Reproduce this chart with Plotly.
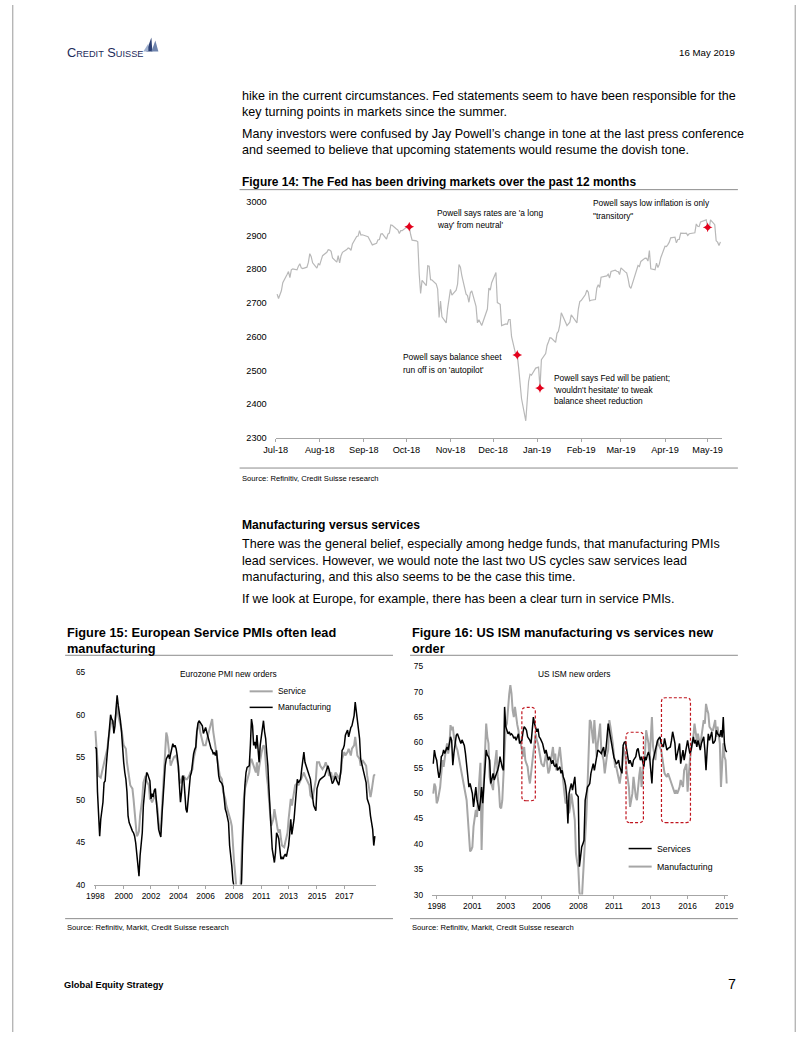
import plotly.graph_objects as go
import pandas as pd

W, H = 802, 1037
ARIAL = "Liberation Sans, Arial"
GREY_LINE = "#a6a6a6"

# the photographed page comes back slightly shrunk and offset; positions below are
# taken from the reference page and mapped back through this
OX, SX = 12.0, 0.975
OY, SY = 5.6, 0.989
FS = 1 / 0.98

# ---------------- Figure 14: S&P 500 daily close ----------------
spx_holidays = ["2018-07-04", "2018-09-03", "2018-11-22", "2018-12-05", "2018-12-25",
                "2019-01-01", "2019-01-21", "2019-02-18", "2019-04-19"]
spx_close = [
    # Jul-18
    2726, 2713, 2736, 2760, 2784, 2793, 2775, 2798, 2801, 2798, 2809, 2816, 2804, 2802, 2806, 2820, 2846, 2837, 2819, 2803, 2816,
    # Aug-18
    2813, 2827, 2840, 2850, 2858, 2857, 2853, 2833, 2821, 2840, 2819, 2840, 2850, 2858, 2863, 2861, 2856, 2875, 2897, 2898, 2914, 2901, 2902,
    # Sep-18
    2896, 2888, 2878, 2872, 2877, 2887, 2888, 2904, 2905, 2889, 2904, 2907, 2931, 2930, 2919, 2916, 2906, 2914, 2914,
    # Oct-18
    2924, 2923, 2926, 2902, 2886, 2884, 2881, 2786, 2728, 2767, 2751, 2810, 2809, 2769, 2768, 2756, 2741, 2657, 2706, 2659, 2641, 2683, 2712,
    # Nov-18
    2740, 2723, 2738, 2756, 2814, 2806, 2781, 2726, 2722, 2702, 2730, 2736, 2690, 2641, 2650, 2633, 2674, 2682, 2744, 2738, 2760,
    # Dec-18
    2790, 2701, 2696, 2633, 2638, 2637, 2651, 2651, 2600, 2546, 2546, 2507, 2467, 2417, 2351, 2468, 2489, 2486, 2507,
    # Jan-19
    2510, 2448, 2532, 2550, 2574, 2585, 2597, 2596, 2583, 2610, 2616, 2636, 2671, 2633, 2639, 2643, 2665, 2644, 2641, 2682, 2704,
    # Feb-19
    2707, 2725, 2738, 2732, 2706, 2708, 2710, 2744, 2754, 2746, 2776, 2780, 2785, 2774, 2793, 2797, 2794, 2793, 2784,
    # Mar-19
    2804, 2792, 2789, 2772, 2749, 2743, 2783, 2792, 2811, 2808, 2823, 2833, 2832, 2824, 2855, 2801, 2798, 2818, 2805, 2815, 2834,
    # Apr-19
    2868, 2867, 2873, 2880, 2893, 2895, 2878, 2888, 2888, 2907, 2906, 2907, 2900, 2905, 2908, 2934, 2927, 2926, 2940, 2943, 2946,
    # May-19
    2924, 2917, 2946, 2932, 2884, 2880, 2870, 2881,
]
spx_dates = pd.bdate_range("2018-07-02", "2019-05-10", freq="C", holidays=spx_holidays)
spx = pd.Series(spx_close, index=spx_dates)
event_dates = pd.to_datetime(["2018-10-03", "2018-12-18", "2019-01-03", "2019-05-01"])

# ---------------- Figure 15: Eurozone PMI new orders ----------------
ez_service = [
    58.1, 56.4, 54.5, 52.8, 52.7, 52.6, 53.2, 53.8, 54.4, 55.2,
    55.6, 56.0, 57.2, 58.0, 58.7, 59.5, 59.0, 58.9, 59.3, 60.2,
    61.1, 59.9, 59.4, 58.9, 58.3, 57.3, 56.4, 56.2, 56.0, 54.4,
    53.5, 52.8, 51.7, 51.5, 51.3, 50.1, 48.8, 47.3, 45.7, 45.9,
    46.3, 48.1, 49.0, 50.1, 52.0, 52.4, 52.8, 52.2, 51.9, 51.7,
    50.1, 50.0, 49.7, 50.1, 50.3, 50.5, 49.8, 48.9, 47.3, 46.7,
    46.1, 48.9, 51.5, 54.0, 56.8, 57.9, 57.4, 56.4, 55.4, 54.0,
    54.4, 54.8, 55.0, 55.1, 55.2, 54.6, 54.0, 52.4, 51.9, 52.4,
    52.8, 52.8, 52.6, 52.4, 52.4, 52.6, 52.8, 53.2, 53.4, 53.6,
    54.8, 55.4, 56.0, 58.0, 58.6, 59.1, 58.0, 57.4, 56.8, 56.4,
    56.4, 56.4, 57.0, 57.5, 58.0, 58.7, 59.1, 59.5, 58.0, 57.2,
    56.4, 55.2, 54.6, 54.0, 52.8, 52.6, 52.4, 50.9, 50.5, 50.1,
    49.3, 48.9, 48.5, 48.1, 47.5, 46.9, 44.2, 42.8, 41.4, 39.0,
    37.5, 37.0, 38.5, 40.0, 43.5, 47.3, 50.1, 51.3, 51.8, 52.4,
    52.8, 53.2, 54.4, 54.8, 54.4, 54.0, 53.6, 53.2, 54.4, 52.8,
    53.8, 54.8, 55.4, 56.0, 56.4, 56.2, 54.0, 52.8, 51.7, 50.1,
    48.1, 46.9, 47.3, 47.7, 48.9, 48.1, 46.9, 46.5, 46.1, 46.5,
    45.4, 44.6, 44.5, 44.4, 45.0, 45.5, 46.1, 47.7, 49.0, 50.1,
    49.3, 50.1, 50.9, 51.7, 51.8, 52.0, 51.7, 52.0, 52.4, 52.8,
    53.0, 53.2, 52.8, 52.5, 52.2, 52.0, 51.7, 50.5, 50.3, 50.1,
    50.9, 51.6, 52.4, 54.4, 54.4, 54.4, 54.0, 53.8, 53.6, 53.8,
    54.0, 54.4, 54.0, 53.6, 52.8, 53.0, 53.2, 52.4, 52.6, 52.8,
    53.2, 53.0, 52.8, 52.4, 52.8, 53.2, 54.8, 55.2, 55.6, 55.2,
    55.4, 55.6, 56.0, 55.6, 55.2, 56.0, 56.2, 56.4, 57.4, 56.3,
    55.2, 55.0, 54.8, 54.0, 54.5, 54.6, 54.4, 54.2, 54.0, 52.8,
    52.0, 51.3, 50.3, 51.0, 52.0, 52.8, 53.0,
]
ez_manuf = [
    56.2, 56.0, 50.9, 47.3, 45.7, 47.7, 48.5, 49.7, 52.0, 52.2,
    54.0, 55.6, 57.2, 58.3, 60.0, 59.5, 59.3, 57.8, 58.7, 60.7,
    62.3, 61.1, 60.3, 59.3, 58.0, 55.6, 54.4, 53.2, 52.4, 50.9,
    48.1, 47.3, 46.9, 46.5, 46.3, 46.1, 45.7, 44.9, 43.8, 42.5,
    41.0, 43.4, 45.0, 46.1, 49.3, 51.0, 52.0, 53.2, 53.0, 52.6,
    52.2, 50.1, 50.7, 50.3, 51.1, 51.3, 49.3, 47.3, 46.5, 46.0,
    45.6, 48.1, 50.5, 52.0, 54.0, 54.8, 55.0, 55.3, 54.8, 55.6,
    56.0, 56.6, 56.2, 56.4, 56.0, 55.2, 54.0, 51.7, 49.7, 50.9,
    52.8, 52.6, 50.9, 48.9, 48.5, 49.8, 51.3, 52.8, 53.2, 54.4,
    55.4, 55.9, 56.2, 58.0, 59.0, 59.3, 59.1, 59.0, 58.7, 57.8,
    58.3, 58.5, 58.0, 57.4, 56.8, 56.6, 56.0, 55.8, 55.4, 55.5,
    55.2, 55.8, 54.2, 52.8, 52.2, 52.0, 51.9, 51.5, 50.0, 48.9,
    48.5, 48.0, 47.3, 44.6, 43.5, 42.2, 40.5, 39.8, 36.0, 32.0,
    30.5, 33.0, 36.5, 39.0, 40.6, 45.4, 49.3, 51.7, 53.2, 53.8,
    53.9, 54.0, 56.4, 59.5, 58.7, 56.4, 56.8, 56.0, 57.6, 55.6,
    54.4, 56.4, 57.2, 58.0, 59.3, 58.0, 57.2, 55.5, 54.0, 51.3,
    48.5, 46.1, 44.2, 43.4, 42.6, 43.8, 46.1, 45.8, 45.4, 44.2,
    43.0, 43.2, 43.0, 43.4, 43.6, 43.3, 43.8, 44.6, 46.0, 47.7,
    45.9, 46.8, 47.7, 49.3, 51.0, 52.4, 52.0, 52.2, 52.4, 53.6,
    54.5, 55.6, 54.4, 54.0, 53.6, 53.2, 52.8, 52.4, 51.2, 50.1,
    49.3, 49.0, 48.7, 51.3, 51.8, 52.2, 52.4, 52.5, 52.6, 52.7,
    52.8, 53.2, 53.5, 54.0, 53.6, 53.0, 52.4, 51.9, 52.1, 52.4,
    52.8, 52.3, 52.0, 51.7, 52.5, 53.6, 55.8, 56.0, 56.4, 57.6,
    57.9, 58.2, 57.4, 58.0, 58.5, 58.7, 59.2, 59.9, 61.5, 60.5,
    59.5, 58.3, 57.2, 54.8, 54.2, 53.6, 53.2, 52.6, 52.0, 50.1,
    49.7, 49.3, 48.1, 47.3, 46.5, 44.6, 45.7,
]
ez_tick_pos = [0, 26, 51, 76, 101, 127, 152, 177, 203, 228]
ez_tick_labels = ["1998", "2000", "2002", "2004", "2006", "2008", "2011", "2013", "2015", "2017"]

# ---------------- Figure 16: US ISM new orders ----------------
us_services = [
    55.8, 58.5, 57.2, 56.5, 54.5, 53.0, 54.2, 57.2, 57.5, 58.5,
    57.8, 58.6, 59.1, 58.5, 59.8, 61.1, 60.4, 55.5, 58.0, 60.4,
    61.4, 61.7, 61.1, 60.4, 59.8, 60.5, 60.1, 59.4, 57.8, 55.8,
    53.9, 51.2, 51.9, 50.5, 49.9, 47.3, 49.3, 51.2, 48.6, 47.3,
    46.5, 48.6, 51.2, 48.0, 51.9, 56.5, 58.5, 57.5, 57.2, 56.5,
    51.9, 52.8, 53.9, 52.6, 53.5, 53.9, 54.5, 55.5, 57.2, 55.8,
    55.0, 54.5, 67.0, 63.1, 62.5, 61.7, 62.1, 61.5, 61.7, 61.4,
    60.8, 61.1, 60.4, 61.0, 61.7, 59.8, 60.2, 60.4, 62.1, 63.1,
    62.8, 62.4, 61.1, 60.8, 60.4, 59.8, 62.0, 65.0, 63.7, 62.8,
    62.1, 62.7, 61.1, 60.8, 60.4, 59.8, 58.8, 57.8, 58.5, 57.5,
    56.5, 57.2, 56.5, 55.8, 56.5, 55.5, 55.2, 55.8, 54.5, 55.0,
    55.2, 53.9, 54.5, 53.2, 52.6, 51.5, 49.3, 44.0, 49.9, 51.0,
    51.9, 50.6, 52.0, 53.2, 49.9, 49.5, 49.3, 35.5, 37.5, 39.4,
    40.0, 40.7, 48.6, 49.9, 51.2, 51.5, 51.9, 53.9, 54.8, 55.8,
    54.5, 56.0, 57.2, 58.5, 58.3, 58.1, 57.8, 58.5, 59.1, 57.2,
    58.5, 61.0, 63.7, 62.4, 61.0, 59.8, 57.8, 57.0, 56.5, 55.8,
    56.0, 56.5, 55.2, 54.5, 53.9, 59.4, 60.0, 60.1, 58.5, 57.0,
    55.8, 56.5, 55.8, 55.2, 56.5, 56.8, 57.2, 58.5, 58.8, 57.5,
    56.5, 57.2, 56.0, 55.2, 57.2, 56.5, 57.5, 58.1, 57.2, 54.5,
    51.9, 56.5, 57.5, 58.5, 59.1, 60.4, 60.8, 61.1, 59.8, 59.5,
    59.1, 60.8, 59.5, 58.5, 58.8, 59.0, 59.1, 60.4, 62.1, 61.0,
    59.8, 56.5, 57.8, 58.8, 59.8, 55.8, 57.0, 58.5, 56.5, 58.0,
    59.8, 60.4, 59.0, 57.8, 58.5, 60.0, 61.1, 59.8, 60.5, 59.1,
    60.4, 59.5, 58.5, 59.8, 60.5, 61.1, 58.5, 54.5, 58.5, 61.7,
    60.4, 61.5, 62.1, 59.8, 60.0, 60.4, 62.4, 61.7, 61.5, 61.1,
    62.4, 61.0, 65.0, 59.8, 58.5, 58.1,
]
us_manuf = [
    49.9, 51.9, 51.2, 48.0, 48.6, 50.0, 51.2, 53.9, 56.5, 55.2,
    57.2, 58.5, 59.8, 57.8, 59.1, 63.4, 62.4, 63.1, 61.0, 59.8,
    59.1, 58.5, 57.2, 56.5, 54.5, 53.5, 52.6, 51.2, 49.9, 48.6,
    45.3, 42.1, 38.5, 38.8, 39.4, 43.4, 45.3, 46.7, 45.3, 49.9,
    52.6, 56.0, 38.8, 47.3, 53.0, 59.1, 63.7, 61.1, 59.8, 53.2,
    51.9, 51.5, 50.6, 54.5, 56.5, 58.5, 53.2, 51.2, 47.3, 47.0,
    48.6, 53.9, 61.1, 63.1, 63.7, 67.6, 69.5, 71.3, 69.6, 66.3,
    65.0, 67.0, 64.4, 63.5, 62.4, 60.4, 59.8, 58.5, 57.2, 59.1,
    56.5, 55.8, 55.2, 53.2, 51.9, 53.9, 56.5, 58.0, 59.8, 61.7,
    60.4, 59.8, 58.5, 57.2, 55.8, 55.5, 55.2, 56.5, 57.8, 55.8,
    53.9, 54.5, 56.0, 57.2, 59.1, 56.5, 57.8, 54.5, 56.5, 57.5,
    59.1, 56.5, 53.9, 51.2, 49.9, 48.0, 48.4, 48.6, 46.0, 47.3,
    49.9, 48.6, 46.5, 44.7, 38.1, 36.5, 35.5, 30.5, 29.0, 28.5,
    32.9, 36.5, 40.7, 45.3, 51.2, 58.0, 64.4, 64.0, 62.0, 59.8,
    64.4, 60.0, 57.2, 59.8, 61.5, 63.7, 58.5, 57.5, 56.5, 53.9,
    56.5, 57.5, 58.5, 64.4, 63.0, 61.7, 59.8, 57.5, 55.2, 55.2,
    54.0, 53.2, 51.9, 53.5, 55.2, 59.1, 58.0, 57.2, 54.5, 53.0,
    51.2, 47.3, 48.5, 49.9, 53.2, 51.0, 49.3, 48.6, 51.9, 53.5,
    55.2, 51.2, 54.0, 56.5, 57.8, 62.4, 61.0, 59.8, 56.5, 60.5,
    65.0, 59.1, 58.0, 56.5, 59.1, 60.4, 59.5, 59.1, 58.5, 57.0,
    55.8, 53.9, 53.5, 53.2, 53.9, 53.0, 52.6, 51.9, 51.2, 50.5,
    49.9, 50.6, 49.9, 50.5, 51.2, 52.6, 52.0, 51.2, 54.5, 55.0,
    55.8, 50.3, 54.0, 56.5, 58.5, 60.0, 61.1, 63.7, 62.0, 60.4,
    61.7, 60.5, 59.1, 61.1, 62.5, 64.4, 63.7, 67.6, 66.5, 65.7,
    63.1, 62.8, 62.4, 62.4, 63.5, 64.4, 61.1, 63.1, 61.5, 59.8,
    51.2, 56.0, 59.8, 57.2, 56.5, 51.9,
]
us_tick_pos = [3, 34, 63, 94, 126, 157, 189, 221, 253]
us_tick_labels = ["1998", "2001", "2003", "2006", "2008", "2011", "2013", "2016", "2019"]

# highlighted periods (x0, x1 in months, y0, y1 in index points)
us_boxes = [(77, 88.7, 48.5, 66.9), (167.5, 182.6, 44.2, 62.0), (198.3, 223.5, 44.2, 68.8)]


def px(x):
    return (x - OX) / SX / W


def py(y):
    return 1 - (y - OY) / SY / H


def fs(size):
    return round(size * FS, 2)


def note(x, y, text, size=10, family=ARIAL, color="#000000", xanchor="left"):
    return dict(x=px(x), y=py(y), xref="paper", yref="paper", text=text, showarrow=False,
                xanchor=xanchor, yanchor="middle", align="left",
                font=dict(family=family, size=fs(size), color=color))


def hline(x0, x1, y, color="#8c8c8c", width=1):
    return dict(type="line", xref="paper", yref="paper", x0=px(x0), x1=px(x1), y0=py(y), y1=py(y),
                line=dict(color=color, width=width))


def rounded_box(x0, x1, y0, y1, rx=3.5, ry=0.8):
    return (f"M{x0 + rx},{y0} L{x1 - rx},{y0} Q{x1},{y0} {x1},{y0 + ry} L{x1},{y1 - ry} "
            f"Q{x1},{y1} {x1 - rx},{y1} L{x0 + rx},{y1} Q{x0},{y1} {x0},{y1 - ry} "
            f"L{x0},{y0 + ry} Q{x0},{y0} {x0 + rx},{y0} Z")


fig = go.Figure()

fig.add_trace(go.Scatter(x=spx.index, y=spx.values, mode="lines",
                         line=dict(color="#b8b8b8", width=1.2), xaxis="x", yaxis="y"))
fig.add_trace(go.Scatter(x=event_dates, y=spx.loc[event_dates].values, mode="markers",
                         marker=dict(symbol="star-diamond", size=7, color="#e3001b"), xaxis="x", yaxis="y"))

fig.add_trace(go.Scatter(x=list(range(len(ez_service))), y=ez_service, mode="lines",
                         line=dict(color="#a6a6a6", width=2), xaxis="x2", yaxis="y2"))
fig.add_trace(go.Scatter(x=list(range(len(ez_manuf))), y=ez_manuf, mode="lines",
                         line=dict(color="#000000", width=1.5), xaxis="x2", yaxis="y2"))

fig.add_trace(go.Scatter(x=list(range(len(us_manuf))), y=us_manuf, mode="lines",
                         line=dict(color="#a6a6a6", width=2), xaxis="x3", yaxis="y3"))
fig.add_trace(go.Scatter(x=list(range(len(us_services))), y=us_services, mode="lines",
                         line=dict(color="#000000", width=1.5), xaxis="x3", yaxis="y3"))

tick_font = dict(family=ARIAL, size=fs(9), color="#000000")
small_tick_font = dict(family=ARIAL, size=fs(8.2), color="#000000")
x_common = dict(showgrid=False, zeroline=False, showline=True, linecolor=GREY_LINE, linewidth=1,
                ticks="outside", ticklen=3, tickcolor=GREY_LINE, fixedrange=True)
y_common = dict(showgrid=False, zeroline=False, showline=False, ticks="",
                ticklabelstandoff=8, fixedrange=True)

shapes = [
    # page edges (as far out as the page allows)
    dict(type="line", xref="paper", yref="paper", x0=0.001, x1=0.001, y0=0, y1=1,
         line=dict(color="#9a9a9a", width=1)),
    dict(type="line", xref="paper", yref="paper", x0=0.999, x1=0.999, y0=0, y1=1,
         line=dict(color="#9a9a9a", width=1)),
    # sail logo
    dict(type="path", xref="paper", yref="paper", fillcolor="#2b3f73", line=dict(width=0),
         path=f"M{px(146)},{py(52)} L{px(151)},{py(38)} L{px(152)},{py(52)} Z"),
    dict(type="path", xref="paper", yref="paper", fillcolor="#6f84ad", line=dict(width=0),
         path=f"M{px(151)},{py(52)} L{px(155)},{py(41)} L{px(158)},{py(52)} Z"),
    dict(type="path", xref="paper", yref="paper", fillcolor="#9fb0cf", line=dict(width=0),
         path=f"M{px(143)},{py(52)} L{px(148)},{py(44)} L{px(148)},{py(52)} Z"),
    # rules
    hline(239, 736, 190),
    hline(239, 736, 468),
    hline(65, 392, 655),
    hline(65, 392, 918),
    hline(409, 736, 655),
    hline(409, 736, 918),
    # legends
    hline(249, 272, 691, color="#a6a6a6", width=2),
    hline(249, 272, 707, color="#000000", width=1.5),
    hline(627, 650, 848, color="#000000", width=1.5),
    hline(627, 650, 866, color="#a6a6a6", width=2),
]
for x0, x1, y0, y1 in us_boxes:
    shapes.append(dict(type="path", xref="x3", yref="y3", path=rounded_box(x0, x1, y0, y1),
                       line=dict(color="#c0141e", width=1.2, dash="3px,2px")))

body = 12.3
chart_note = 8.2
annotations = [
    note(65, 53, "C<span style='font-size:9.2px'>REDIT</span> S<span style='font-size:9.2px'>UISSE</span>",
         size=12.5, color="#1c2b5a"),
    note(735, 53, "16 May 2019", size=9.5, xanchor="right"),
    note(239, 96, "hike in the current circumstances. Fed statements seem to have been responsible for the", size=body),
    note(239, 112, "key turning points in markets since the summer.", size=body),
    note(239, 134, "Many investors were confused by Jay Powell’s change in tone at the last press conference", size=body),
    note(239, 150, "and seemed to believe that upcoming statements would resume the dovish tone.", size=body),
    note(239, 182, "<b>Figure 14: The Fed has been driving markets over the past 12 months</b>", size=11.7),
    note(434, 213, "Powell says rates are 'a long", size=chart_note),
    note(434, 225, "way' from neutral'", size=chart_note),
    note(589, 203, "Powell says low inflation is only", size=chart_note),
    note(589, 216, "\"transitory\"", size=chart_note),
    note(400, 357, "Powell says balance sheet", size=chart_note),
    note(400, 370, "run off is on 'autopilot'", size=chart_note),
    note(551, 378, "Powell says Fed will be patient;", size=chart_note),
    note(551, 390, "'wouldn't hesitate' to tweak", size=chart_note),
    note(551, 401, "balance sheet reduction", size=chart_note),
    note(239, 478, "Source: Refinitiv, Credit Suisse research", size=7.5),
    note(239, 525, "<b>Manufacturing versus services</b>", size=11.9),
    note(239, 544, "There was the general belief, especially among hedge funds, that manufacturing PMIs", size=body),
    note(239, 561, "lead services. However, we would note the last two US cycles saw services lead", size=body),
    note(239, 577, "manufacturing, and this also seems to be the case this time.", size=body),
    note(239, 599, "If we look at Europe, for example, there has been a clear turn in service PMIs.", size=body),
    note(65, 632, "<b>Figure 15: European Service PMIs often lead</b>", size=12.5),
    note(65, 648, "<b>manufacturing</b>", size=12.5),
    note(409, 632, "<b>Figure 16: US ISM manufacturing vs services new</b>", size=12.5),
    note(409, 648, "<b>order</b>", size=12.5),
    note(228, 674, "Eurozone PMI new orders", size=chart_note, xanchor="center"),
    note(573, 674, "US ISM new orders", size=chart_note, xanchor="center"),
    note(275, 691, "Service", size=chart_note),
    note(275, 707, "Manufacturing", size=chart_note),
    note(653, 848, "Services", size=8.6),
    note(653, 866, "Manufacturing", size=8.6),
    note(65, 927, "Source: Refinitiv, Markit, Credit Suisse research", size=7.5),
    note(409, 927, "Source: Refinitiv, Markit, Credit Suisse research", size=7.5),
    note(62, 984, "<b>Global Equity Strategy</b>", size=9.1),
    note(736, 983, "7", size=14, xanchor="right"),
]

fig.update_layout(
    width=W, height=H,
    autosize=False,
    margin=dict(l=0, r=0, t=0, b=0, pad=0),
    paper_bgcolor="#ffffff", plot_bgcolor="rgba(0,0,0,0)",
    showlegend=False,
    font=dict(family=ARIAL, color="#000000"),
    xaxis=dict(x_common, domain=[px(275), px(720)], anchor="y", type="date", tickfont=tick_font,
               range=["2018-07-01", "2019-05-11"], dtick="M1", tick0="2018-07-01", tickformat="%b-%y"),
    yaxis=dict(y_common, domain=[py(438), py(202)], anchor="x", range=[2300, 3000], dtick=100,
               tickfont=tick_font),
    xaxis2=dict(x_common, domain=[px(94), px(375)], anchor="y2", range=[-1, 257],
                tickvals=ez_tick_pos, ticktext=ez_tick_labels, tickfont=small_tick_font),
    yaxis2=dict(y_common, domain=[py(884), py(672)], anchor="x2", range=[40, 65], dtick=5,
                tickfont=small_tick_font),
    xaxis3=dict(x_common, domain=[px(431), px(726)], anchor="y3", range=[-1, 256],
                tickvals=us_tick_pos, ticktext=us_tick_labels, tickfont=small_tick_font),
    yaxis3=dict(y_common, domain=[py(894), py(666)], anchor="x3", range=[30, 75], dtick=5,
                tickfont=small_tick_font),
    shapes=shapes,
    annotations=annotations,
)

page_js = """
document.documentElement.style.margin='0';
document.body.style.margin='0';
document.body.style.overflow='hidden';
"""
fig.write_html("out.html", config={"displayModeBar": False}, post_script=page_js)
